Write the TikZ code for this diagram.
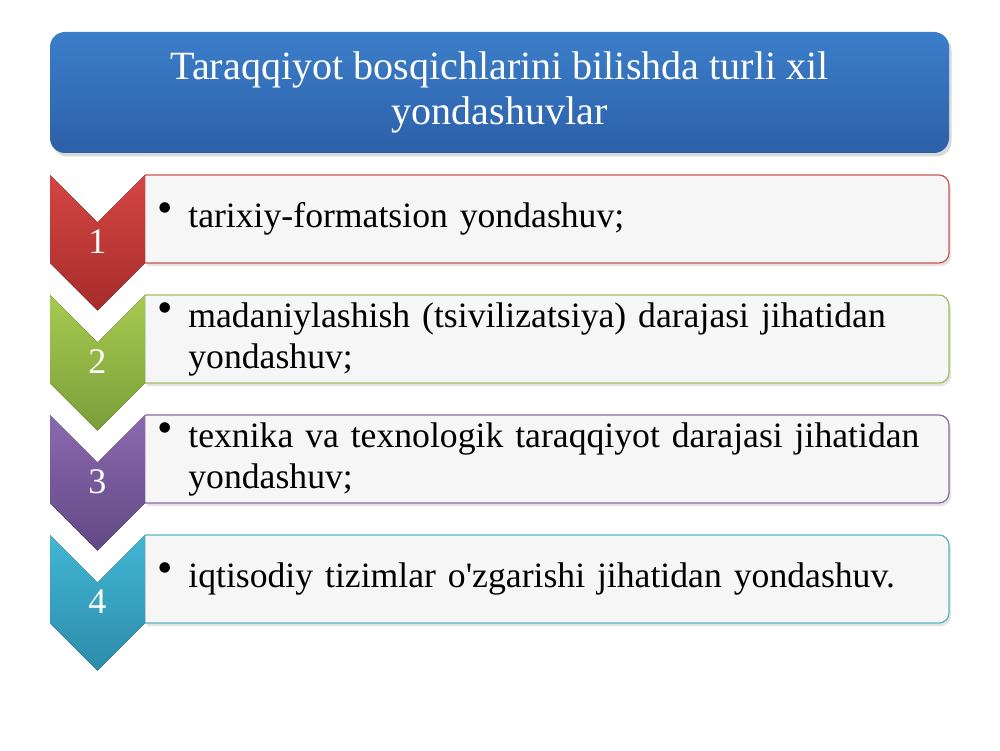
\documentclass[tikz,border=0pt]{standalone}
\usepackage{fontspec}
\setmainfont{Liberation Serif}[Ligatures=TeXOff]
\usepackage{tikz}
\usetikzlibrary{positioning, shadows}

\definecolor{titletop}{RGB}{60,126,202}
\definecolor{titlebot}{RGB}{44,96,168}
\definecolor{redtop}{RGB}{212,70,68}
\definecolor{redbot}{RGB}{166,44,42}
\definecolor{redline}{RGB}{204,86,82}
\definecolor{greentop}{RGB}{166,202,80}
\definecolor{greenbot}{RGB}{124,158,58}
\definecolor{greenline}{RGB}{162,190,96}
\definecolor{purptop}{RGB}{138,106,176}
\definecolor{purpbot}{RGB}{98,72,132}
\definecolor{purpline}{RGB}{134,108,166}
\definecolor{cyantop}{RGB}{66,182,212}
\definecolor{cyanbot}{RGB}{44,140,170}
\definecolor{cyanline}{RGB}{90,178,200}
\definecolor{boxfill}{RGB}{246,246,246}

\newcommand{\itembullet}{\llap{\raisebox{0.1cm}{\fontsize{25}{25}\selectfont\textbullet}\hspace{0.3cm}}}

\begin{document}
\begin{tikzpicture}[
    titlebox/.style={rounded corners=0.3cm, top color=titletop, bottom color=titlebot,
        minimum width=17.98cm, minimum height=2.42cm, text=white, align=center,
        font=\fontsize{22.8}{25.6}\selectfont,
        drop shadow={shadow xshift=0.05cm, shadow yshift=-0.07cm, opacity=0.3}},
    itembox/.style={fill=boxfill, line width=0.7pt,
        drop shadow={shadow xshift=0.04cm, shadow yshift=-0.06cm, opacity=0.22}},
    itemtext/.style={anchor=west, text width=14.9cm, align=left, inner sep=0pt,
        font=\fontsize{20.3}{23.3}\selectfont},
    num/.style={text=white, font=\fontsize{20.5}{23.3}\selectfont}]
        \useasboundingbox (0,0) rectangle (20,15);
        % title
        \node[titlebox] (title) at (9.99,13.15) {Taraqqiyot bosqichlarini bilishda turli xil\\yondashuvlar};
        % boxes
        \draw[itembox, draw=redline] (2.9,11.5) -- (18.78,11.5) arc[start angle=90, end angle=0, radius=0.2] -- (18.98,9.94) arc[start angle=0, end angle=-90, radius=0.2] -- (2.9,9.74);
        \draw[itembox, draw=greenline] (2.9,9.1) -- (18.78,9.1) arc[start angle=90, end angle=0, radius=0.2] -- (18.98,7.54) arc[start angle=0, end angle=-90, radius=0.2] -- (2.9,7.34);
        \draw[itembox, draw=purpline] (2.9,6.7) -- (18.78,6.7) arc[start angle=90, end angle=0, radius=0.2] -- (18.98,5.14) arc[start angle=0, end angle=-90, radius=0.2] -- (2.9,4.94);
        \draw[itembox, draw=cyanline] (2.9,4.3) -- (18.78,4.3) arc[start angle=90, end angle=0, radius=0.2] -- (18.98,2.74) arc[start angle=0, end angle=-90, radius=0.2] -- (2.9,2.54);
        % chevrons
        \fill[top color=redtop, bottom color=redbot] (1.0,11.5) -- (1.95,10.55) -- (2.9,11.5) -- (2.9,9.74) -- (1.95,8.79) -- (1.0,9.74) -- cycle;
        \fill[top color=greentop, bottom color=greenbot] (1.0,9.1) -- (1.95,8.15) -- (2.9,9.1) -- (2.9,7.34) -- (1.95,6.39) -- (1.0,7.34) -- cycle;
        \fill[top color=purptop, bottom color=purpbot] (1.0,6.7) -- (1.95,5.75) -- (2.9,6.7) -- (2.9,4.94) -- (1.95,3.99) -- (1.0,4.94) -- cycle;
        \fill[top color=cyantop, bottom color=cyanbot] (1.0,4.3) -- (1.95,3.35) -- (2.9,4.3) -- (2.9,2.54) -- (1.95,1.59) -- (1.0,2.54) -- cycle;
        \node[num] (n1) at (1.95,10.16) {1};
        \node[num] (n2) at (1.95,7.76) {2};
        \node[num] (n3) at (1.95,5.36) {3};
        \node[num] (n4) at (1.95,2.96) {4};
        % texts
        \node[itemtext] (t1) at (3.76,10.62) {\itembullet tarixiy-formatsion yondashuv;};
        \node[itemtext] (t2) at (3.76,8.22) {\itembullet madaniylashish (tsivilizatsiya) darajasi jihatidan yondashuv;};
        \node[itemtext] (t3) at (3.76,5.82) {\itembullet texnika va texnologik taraqqiyot darajasi jihatidan yondashuv;};
        \node[itemtext] (t4) at (3.76,3.42) {\itembullet iqtisodiy tizimlar o'zgarishi jihatidan yondashuv.};
\end{tikzpicture}
\end{document}
